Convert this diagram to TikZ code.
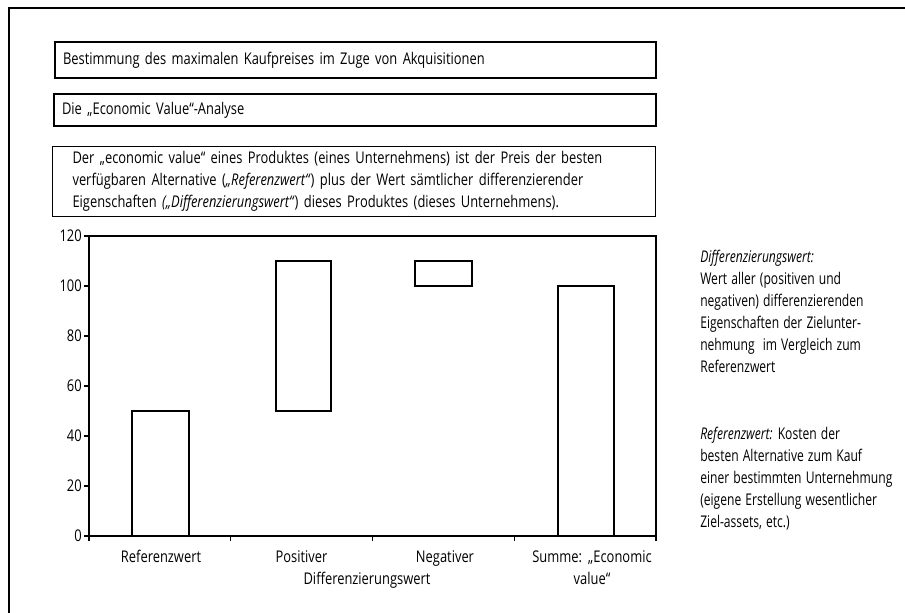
\documentclass[tikz,border=0pt]{standalone}
\usepackage{fontspec}
\setmainfont[FakeStretch=0.8,WordSpace=1.5]{Open Sans}
\newfontfamily\notefont[FakeStretch=0.75,WordSpace=1.3]{Open Sans}
\begin{document}
\begin{tikzpicture}[x=0.75pt,y=-0.75pt,
  txt/.style={font=\fontsize{12.1}{16.6}\selectfont, inner sep=0pt},
  line/.style={anchor=base west, inner sep=0pt,
    font=\notefont\fontsize{12.1}{16.6}\selectfont},
  cat/.style={anchor=base, txt},
  tickl/.style={anchor=east, txt},
  headbox/.style={draw, line width=1.6pt, anchor=north west, align=left,
    inner ysep=0pt, txt, inner xsep=6pt},
  defbox/.style={draw, line width=0.8pt, anchor=north west, align=left,
    inner ysep=0pt, txt, inner xsep=15pt},
  frame/.style={line width=0.9pt},
  bar/.style={draw, line width=0.9pt, fill=white}]
\useasboundingbox (0,0) rectangle (905,612);

% outer frame (open to the right and bottom)
\draw[line width=1.1pt] (9,615) -- (9,8) -- (910,8);

% heading boxes
\node[headbox, minimum width=450.75pt, minimum height=27pt, text width=438.75pt]
  (title) at (54,41) {Bestimmung des maximalen Kaufpreises im Zuge von Akquisitionen};
\node[headbox, minimum width=451.5pt, minimum height=24pt, text width=439.5pt]
  (sub) at (53,93) {Die „Economic Value“-Analyse};
\node[defbox, minimum width=452.25pt, minimum height=52.5pt, text width=422.25pt]
  (def) at (52,146) {Der „economic value“ eines Produktes (eines Unternehmens) ist der Preis der besten\\
  verfügbaren Alternative (\textit{„Referenzwert“}) plus der Wert sämtlicher differenzierender\\
  Eigenschaften \textit{(„Differenzierungswert“}) dieses Produktes (dieses Unternehmens).};

% plot area and axes
\draw[frame] (89,236) rectangle (656,536);
\foreach \v in {0,20,...,120} {
  \draw[frame] (84,536-2.5*\v) -- (89,536-2.5*\v);
  \node[tickl] (y\v) at (82,536-2.5*\v) {\v};
}
\foreach \i/\x in {0/89,1/230.75,2/372.5,3/514.25,4/656}
  \draw[frame] (\x,536) -- (\x,541);

% bars
\draw[bar] (132,411) rectangle (189,536);
\draw[bar] (276,261) rectangle (331,411);
\draw[bar] (415,261) rectangle (472,286);
\draw[bar] (558,286) rectangle (614,536);

% category labels
\node[cat] (c1) at (161,562) {Referenzwert};
\node[cat] (c2) at (301.5,562) {Positiver};
\node[cat] (c2b) at (367,584) {Differenzierungswert};
\node[cat] (c3) at (445,562) {Negativer};
\node[cat] (c4) at (592,562) {Summe: „Economic};
\node[cat] (c4b) at (592,584) {value“};

% explanatory notes
\node[line] (n1) at (700,262) {\textit{Differenzierungswert:}};
\node[line] (n2) at (700,284) {Wert aller (positiven und};
\node[line] (n3) at (700,306) {negativen) differenzierenden};
\node[line] (n4) at (700,328) {Eigenschaften der Zielunter-};
\node[line] (n5) at (700,350) {nehmung\ \ im Vergleich zum};
\node[line] (n6) at (700,372) {Referenzwert};
\node[line] (m1) at (700,439) {\textit{Referenzwert:} Kosten der};
\node[line] (m2) at (700,461) {besten Alternative zum Kauf};
\node[line] (m3) at (700,483) {einer bestimmten Unternehmung};
\node[line] (m4) at (700,505) {(eigene Erstellung wesentlicher};
\node[line] (m5) at (700,527) {Ziel-assets, etc.)};
\end{tikzpicture}
\end{document}
